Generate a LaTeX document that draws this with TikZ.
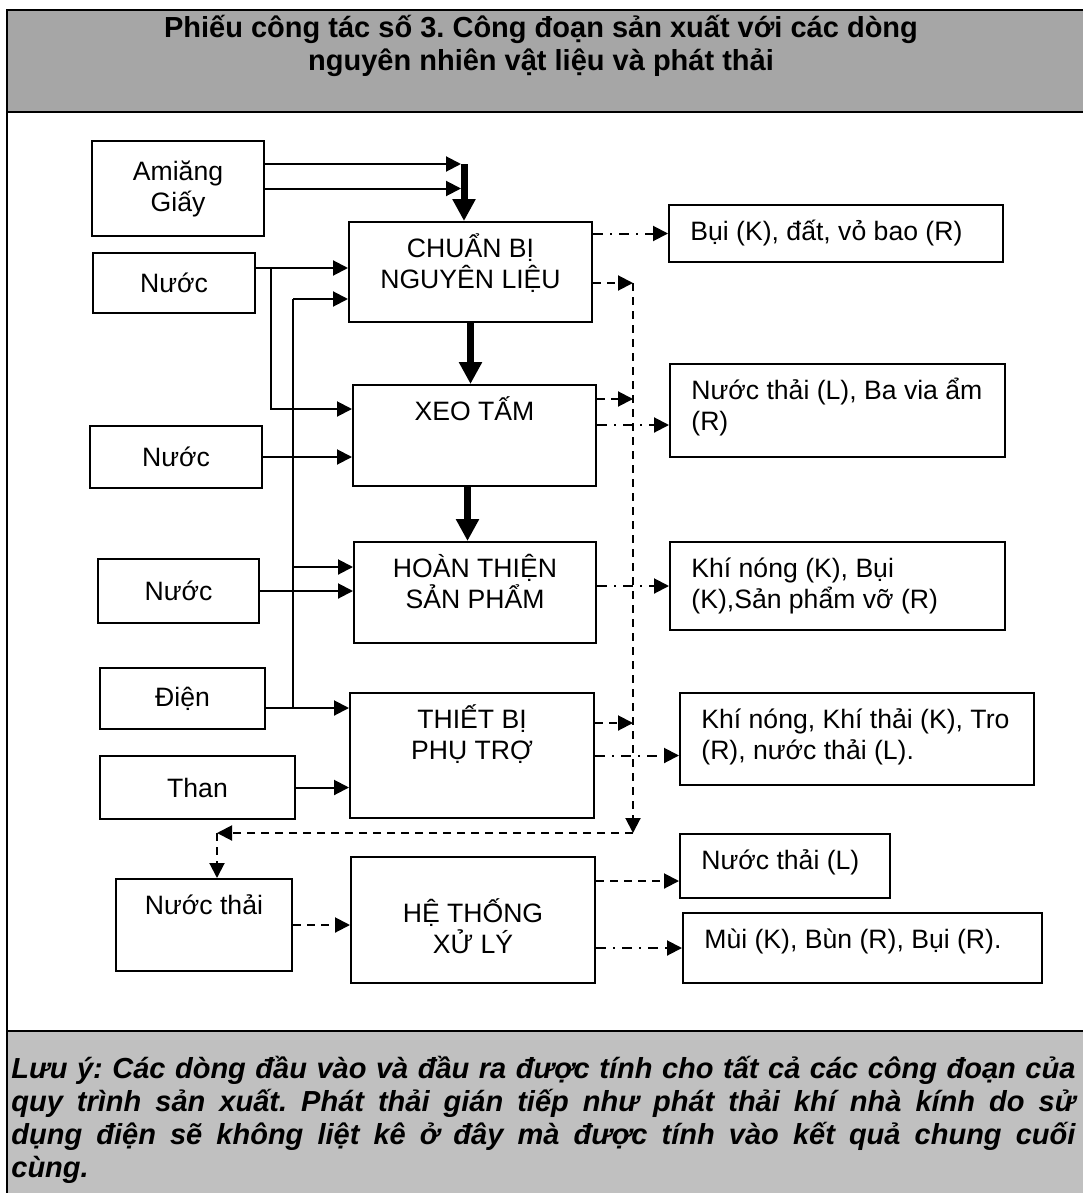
\documentclass[tikz,border=0pt]{standalone}
\usepackage{fontspec}
\setmainfont{Liberation Sans}
\usetikzlibrary{arrows.meta}
\definecolor{headgray}{HTML}{A6A6A6}
\definecolor{notegray}{HTML}{C0C0C0}
\frenchspacing

\begin{document}
\begin{tikzpicture}[x=0.5pt,y=-0.5pt,font=\fontsize{13.3}{15.5}\selectfont,
  box/.style={draw,line width=1pt,inner sep=0pt,align=center},
  inlabel/.style={anchor=base,inner sep=0pt,align=center,yshift=-18pt},
  outlabel/.style={anchor=base west,inner sep=0pt,align=left,xshift=11pt,yshift=-18pt},
  twolines/.style={yshift=-15.5pt},
  flow/.style={-{Triangle[length=7.5pt,width=7.5pt]},line width=1pt},
  bigflow/.style={-{Triangle[length=11pt,width=11pt]},line width=3.5pt},
  waste/.style={flow,dash pattern=on 4pt off 3pt},
  emit/.style={flow,dash pattern=on 5pt off 3.5pt on 1pt off 3.5pt}]

  \useasboundingbox (0,0) rectangle (1083,1193);

  % frame, header and note
  \fill[headgray] (7,10) rectangle (1083,112);
  \fill[notegray] (7,1031) rectangle (1083,1193);
  \draw[line width=1.3pt] (1083,10) -- (7,10) -- (7,1193);
  \draw[line width=1.3pt] (7,112) -- (1083,112);
  \draw[line width=1.3pt] (7,1031) -- (1083,1031);

  \node[anchor=base,inner sep=0pt] (title) at (541,38)
    {\parbox[t]{520pt}{\centering\fontsize{14.5}{16.5}\selectfont\bfseries
     Phiếu công tác số 3. Công đoạn sản xuất với các dòng\\
     nguyên nhiên vật liệu và phát thải}};

  \node[anchor=base west,inner sep=0pt] (note) at (11,1078)
    {\parbox[t]{532pt}{\fontsize{14.5}{16.5}\selectfont\bfseries\itshape
     Lưu ý: Các dòng đầu vào và đầu ra được tính cho tất cả các công đoạn của\linebreak
     quy trình sản xuất. Phát thải gián tiếp như phát thải khí nhà kính do sử\linebreak
     dụng điện sẽ không liệt kê ở đây mà được tính vào kết quả chung cuối\linebreak
     cùng.}};

  % inputs
  \node[box,minimum width=86pt,minimum height=47.5pt] (amiang) at (178,188.5) {Amiăng\\Giấy};
  \node[box,minimum width=81pt,minimum height=30pt] (nuoc1) at (174,283) {Nước};
  \node[box,minimum width=86pt,minimum height=31pt] (nuoc2) at (176,457) {Nước};
  \node[box,minimum width=80.5pt,minimum height=32pt] (nuoc3) at (178.5,591) {Nước};
  \node[box,minimum width=82.5pt,minimum height=30.5pt] (dien) at (182.5,698.5) {Điện};
  \node[box,minimum width=97.5pt,minimum height=31.5pt] (than) at (197.5,787.5) {Than};
  \node[box,minimum width=88pt,minimum height=46pt,
    label={[inlabel]north:Nước thải}] (nthai) at (204,925) {};

  % stages
  \node[box,minimum width=121.5pt,minimum height=50pt,
    label={[inlabel,twolines]north:CHUẨN BỊ\\NGUYÊN LIỆU}] (prep) at (470.5,272) {};
  \node[box,minimum width=121.5pt,minimum height=50.5pt,
    label={[inlabel]north:XEO TẤM}] (xeo) at (474.5,435.5) {};
  \node[box,minimum width=121pt,minimum height=50.5pt,
    label={[inlabel,twolines]north:HOÀN THIỆN\\SẢN PHẨM}] (hoan) at (475,592.5) {};
  \node[box,minimum width=122pt,minimum height=62.5pt,
    label={[inlabel,twolines]north:THIẾT BỊ\\PHỤ TRỢ}] (tbi) at (472,755.5) {};
  \node[box,minimum width=122pt,minimum height=63pt,
    label={[inlabel,twolines,yshift=-15pt]north:HỆ THỐNG\\XỬ LÝ}] (hts) at (473,920) {};

  % outputs
  \node[box,minimum width=167pt,minimum height=28.5pt,
    label={[outlabel]north west:Bụi (K), đất, vỏ bao (R)}] (o1) at (836,233.5) {};
  \node[box,minimum width=167.5pt,minimum height=46.5pt,
    label={[outlabel,twolines]north west:Nước thải (L), Ba via ẩm\\(R)}] (o2) at (837.5,410.5) {};
  \node[box,minimum width=167.5pt,minimum height=44pt,
    label={[outlabel,twolines]north west:Khí nóng (K), Bụi\\(K),Sản phẩm vỡ (R)}] (o3) at (837.5,586) {};
  \node[box,minimum width=177pt,minimum height=46pt,
    label={[outlabel,twolines]north west:Khí nóng, Khí thải (K), Tro\\(R), nước thải (L).}] (o4) at (857,739) {};
  \node[box,minimum width=105pt,minimum height=32pt,
    label={[outlabel]north west:Nước thải (L)}] (o5) at (785,866) {};
  \node[box,minimum width=179.5pt,minimum height=35pt,
    label={[outlabel]north west:Mùi (K), Bùn (R), Bụi (R).}] (o6) at (862.5,948) {};

  % material feeds
  \coordinate (feed) at (464,164);
  \draw[flow,shorten >=1.5pt] (amiang.east |- feed) -- (feed);
  \draw[flow,shorten >=1.5pt] (amiang.east) -- (amiang.east -| feed);
  \draw[bigflow] (feed) -- (feed |- prep.north);

  \coordinate (bus1) at (271,268);
  \coordinate (bus2) at (293,299);
  \coordinate (x1) at ([yshift=13.25pt]xeo.west);
  \coordinate (h1) at ([yshift=12.75pt]hoan.west);
  \coordinate (pwr) at ([yshift=-4.75pt]dien.east);
  \draw[flow] (nuoc1.east |- bus1) -- (bus1 -| prep.west);
  \draw[flow] (bus1) |- (x1);
  \draw[flow] (bus2) -- (bus2 -| prep.west);
  \draw[line width=1pt] (bus2) -- (bus2 |- pwr);
  \draw[flow] (bus2 |- h1) -- (h1);
  \draw[flow] (pwr) -- (pwr -| tbi.west);
  \draw[flow] (nuoc2.east) -- (nuoc2.east -| xeo.west);
  \draw[flow] (nuoc3.east) -- (nuoc3.east -| hoan.west);
  \draw[flow] (than.east) -- (than.east -| tbi.west);

  % main line
  \coordinate (s2) at ([xshift=-3.5pt]xeo.south);
  \draw[bigflow] (prep.south) -- (prep.south |- xeo.north);
  \draw[bigflow] (s2) -- (s2 |- hoan.north);

  % waste water collection
  \coordinate (d1) at ([yshift=-5.5pt]prep.east);
  \coordinate (d2) at ([yshift=18.25pt]xeo.east);
  \coordinate (d3) at ([yshift=16.25pt]tbi.east);
  \coordinate (drain) at (633,283);
  \coordinate (sump) at (633,833);
  \coordinate (bend) at (217,833);
  \draw[waste] (d1) -- (d1 -| drain);
  \draw[waste] (d2) -- (d2 -| drain);
  \draw[waste] (d3) -- (d3 -| drain);
  \draw[waste] (drain) -- (sump);
  \draw[waste] (sump) -- (bend);
  \draw[waste] (bend) -- (bend |- nthai.north);
  \draw[waste] (nthai.east) -- (nthai.east -| hts.west);

  % emissions
  \coordinate (e2) at ([yshift=5.25pt]xeo.east);
  \coordinate (e5) at ([yshift=19.5pt]hts.east);
  \draw[emit] (o1.west -| prep.east) -- (o1.west);
  \draw[emit] (e2) -- (e2 -| o2.west);
  \draw[emit] (o3.west -| hoan.east) -- (o3.west);
  \draw[emit] (tbi.east) -- (tbi.east -| o4.west);
  \draw[waste] (e5) -- (e5 -| o5.west);
  \draw[emit] (o6.west -| hts.east) -- (o6.west);
\end{tikzpicture}
\end{document}
